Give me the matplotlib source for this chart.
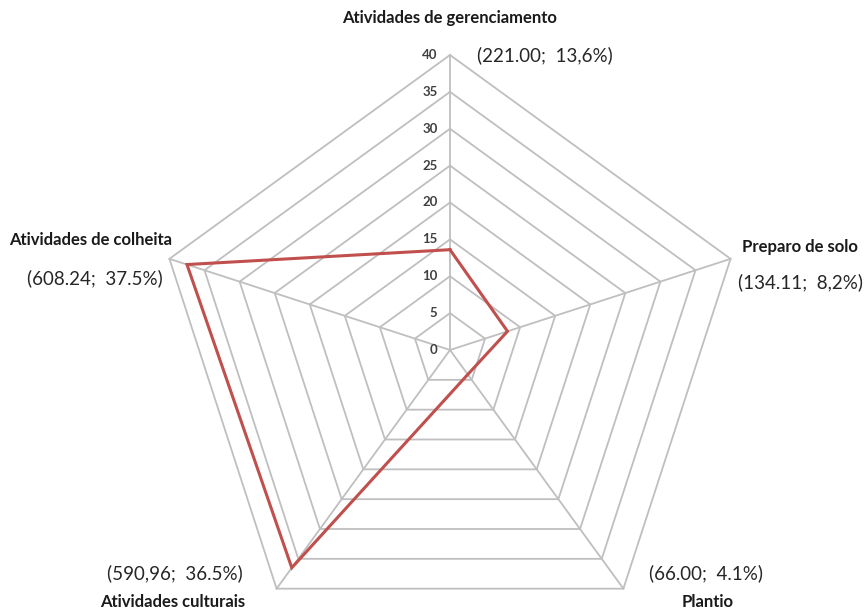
import numpy as np
import matplotlib
matplotlib.use("Agg")
import matplotlib.pyplot as plt

# Share of total per activity group (%), plus absolute totals shown in labels
categories = ["Atividades de gerenciamento", "Preparo de solo", "Plantio",
              "Atividades culturais", "Atividades de colheita"]
values = [13.6, 8.2, 4.1, 36.5, 37.5]
value_labels = ["(221.00;  13,6%)", "(134.11;  8,2%)", "(66.00;  4.1%)",
                "(590,96;  36.5%)", "(608.24;  37.5%)"]
ticks = [0, 5, 10, 15, 20, 25, 30, 35, 40]

W, H = 866, 609
CX, CY = 450, 350          # chart centre in pixels
RMAX_PX = 295              # radius of outer ring in pixels
RMAX = 40
scale = RMAX_PX / RMAX

fig = plt.figure(figsize=(W / 100, H / 100), dpi=100)
ax = fig.add_axes([0, 0, 1, 1])
ax.set_xlim(-CX / scale, (W - CX) / scale)
ax.set_ylim(-(H - CY) / scale, CY / scale)
ax.axis("off")

n = len(categories)
angles = np.deg2rad(90 - 72 * np.arange(n))
grid_color = "#BFBFBF"

# polygon rings
for t in ticks[1:]:
    xs = t * np.cos(angles)
    ys = t * np.sin(angles)
    ax.plot(np.append(xs, xs[0]), np.append(ys, ys[0]), color=grid_color, lw=1.3,
            solid_joinstyle="miter", zorder=1)
# spokes
for a in angles:
    ax.plot([0, RMAX * np.cos(a)], [0, RMAX * np.sin(a)], color=grid_color, lw=1.3, zorder=1)

# data series
vx = np.array(values) * np.cos(angles)
vy = np.array(values) * np.sin(angles)
ax.plot(np.append(vx, vx[0]), np.append(vy, vy[0]), color="#C0504D", lw=2.2,
        solid_joinstyle="miter", zorder=3)

font = "Lato"
# radial tick labels
for t in ticks:
    ax.text(-12.5 / scale, t, str(t), ha="right", va="center", fontsize=9.5,
            fontweight="bold", color="#404040", family=font)


def px(x, y):
    return (x - CX) / scale, (CY - y) / scale


name_pos = [(450, 18), (800, 247), (708, 602), (173, 602), (91, 240)]
val_pos = [(545, 55), (801, 282), (706, 573), (175, 573), (95, 278)]
for name, (x, y) in zip(categories, name_pos):
    ax.text(*px(x, y), name, ha="center", va="center", fontsize=12,
            fontweight="bold", color="#1a1a1a", family=font)
for lab, (x, y) in zip(value_labels, val_pos):
    ax.text(*px(x, y), lab, ha="center", va="center", fontsize=13.5,
            color="#262626", family=font)

fig.savefig("out.png", dpi=100)
